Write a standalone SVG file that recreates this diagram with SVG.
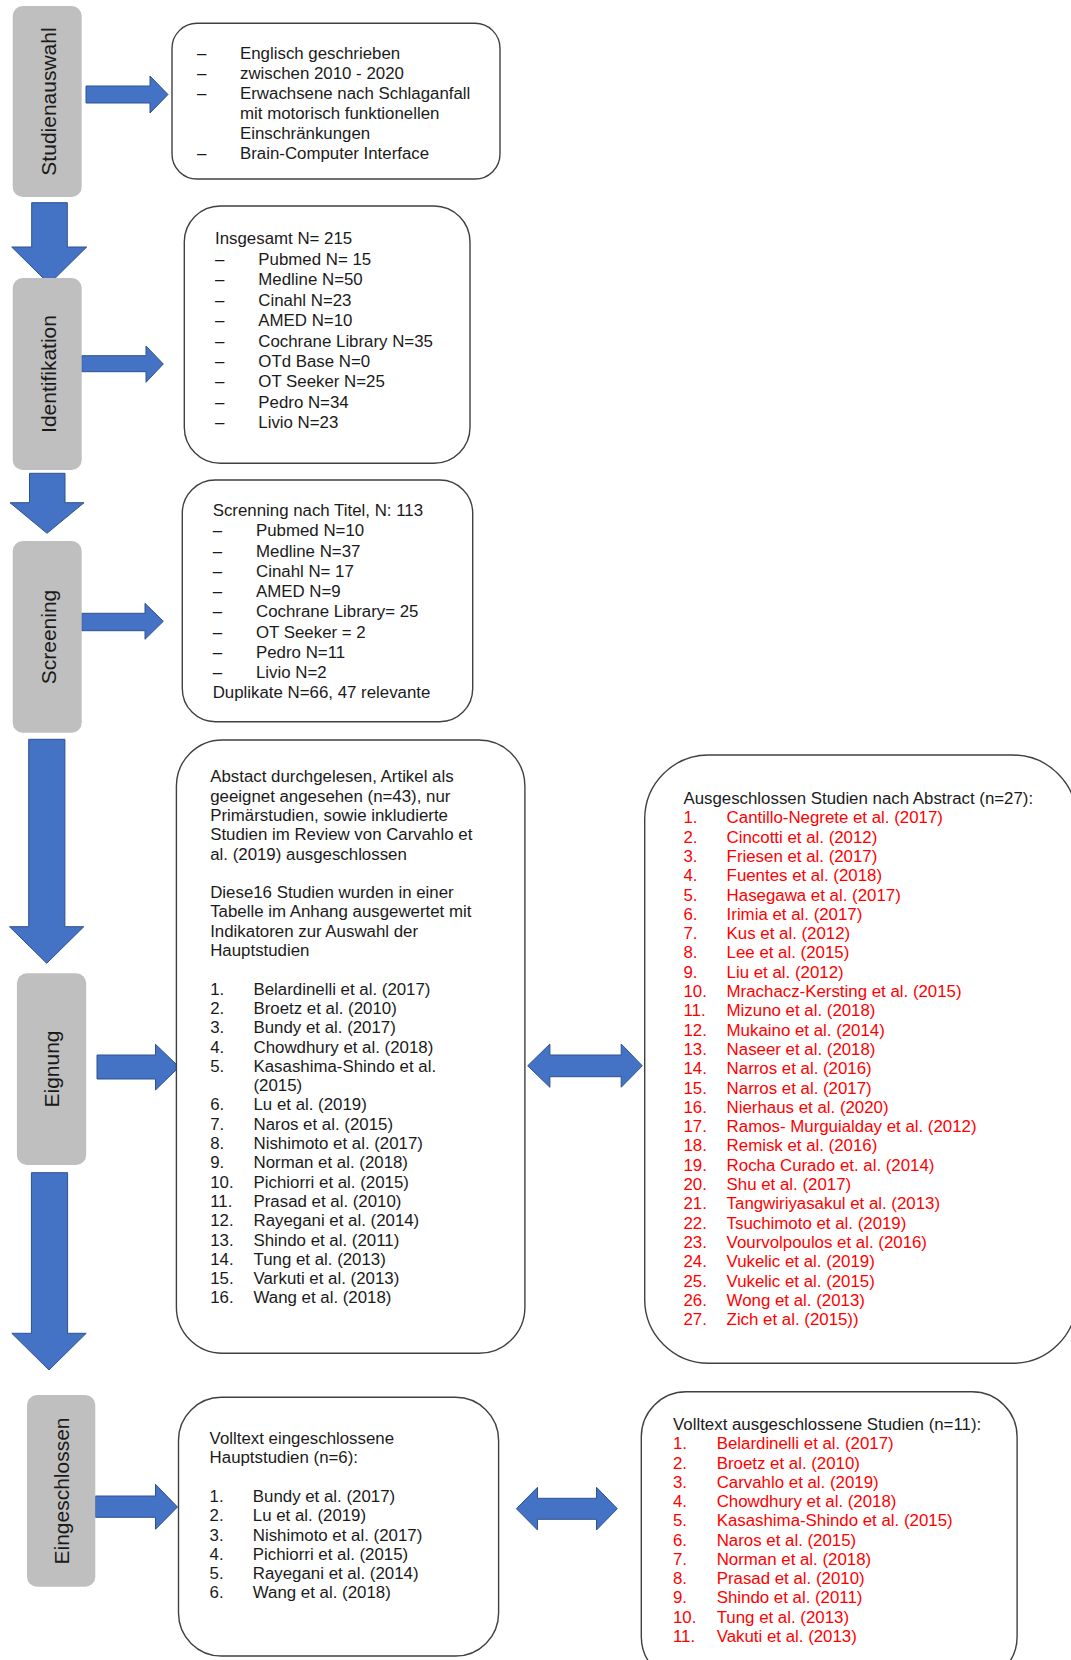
<svg xmlns="http://www.w3.org/2000/svg" width="1071" height="1660" viewBox="0 0 1071 1660">
<style>
.box{fill:#fff;stroke:#404040;stroke-width:1.4}
.stage{fill:#BFBFBF;stroke:none}
.stl{font-family:"Liberation Sans",Arial,sans-serif;font-size:21px;fill:#1a1a1a;text-anchor:middle}
.t{font-family:"Liberation Sans",Arial,sans-serif;font-size:16.85px;fill:#1a1a1a}
.r{fill:#FF0000}
.arr{fill:#4472C4;stroke:#2F528F;stroke-width:1}
</style>
<rect width="1071" height="1660" fill="#fff"/>

<g id="connectors">
<polygon class="arr" points="86,86 150,86 150,76 168,94.5 150,113 150,103 86,103"/>
<polygon class="arr" points="31.7,202.7 67.3,202.7 67.3,247 86.7,247 49.2,284 11.7,247 31.7,247"/>
<polygon class="arr" points="81.7,355.7 146,355.7 146,346 163.3,364 146,382.3 146,371.7 81.7,371.7"/>
<polygon class="arr" points="29.5,473.3 65,473.3 65,502.7 84,502.7 47,533.3 10,502.7 29.5,502.7"/>
<polygon class="arr" points="81.7,613.3 145,613.3 145,603.3 163.3,621.3 145,639.3 145,630.7 81.7,630.7"/>
<polygon class="arr" points="28.7,739.3 64.9,739.3 64.9,926.7 83.8,926.7 46.7,963.3 9.5,926.7 28.7,926.7"/>
<polygon class="arr" points="97,1055 155.5,1055 155.5,1044.3 179.1,1067 155.5,1090 155.5,1079 97,1079"/>
<polygon class="arr" points="31.4,1172.7 67.6,1172.7 67.6,1333.3 86.2,1333.3 49,1370 11.8,1333.3 31.4,1333.3"/>
<polygon class="arr" points="527.7,1065.8 549.9,1044 549.9,1055 621.2,1055 621.2,1044 642.3,1065.8 621.2,1087.3 621.2,1076.7 549.9,1076.7 549.9,1087.3"/>
<polygon class="arr" points="95.3,1496 155.5,1496 155.5,1484.3 177.5,1507 155.5,1529.3 155.5,1517.3 95.3,1517.3"/>
<polygon class="arr" points="516.4,1508.7 537.5,1487.3 537.5,1498.3 596.5,1498.3 596.5,1487.3 617.3,1508.7 596.5,1530 596.5,1519.3 537.5,1519.3 537.5,1530"/>
</g>

<g id="stage-studienauswahl">
<rect class="stage" x="12.7" y="6" width="69" height="191" rx="10"/>
<text class="stl" transform="translate(55.5,101.5) rotate(-90)">Studienauswahl</text>
</g>
<g id="stage-identifikation">
<rect class="stage" x="12.7" y="278" width="69" height="192" rx="10"/>
<text class="stl" transform="translate(55.5,374) rotate(-90)">Identifikation</text>
</g>
<g id="stage-screening">
<rect class="stage" x="12.7" y="541" width="69" height="191.7" rx="10"/>
<text class="stl" transform="translate(55.5,637) rotate(-90)">Screening</text>
</g>
<g id="stage-eignung">
<rect class="stage" x="16.9" y="973.3" width="69.3" height="191.7" rx="10"/>
<text class="stl" transform="translate(59,1069) rotate(-90)">Eignung</text>
</g>
<g id="stage-eingeschlossen">
<rect class="stage" x="27" y="1395" width="68.3" height="191.7" rx="10"/>
<text class="stl" transform="translate(68.5,1491) rotate(-90)">Eingeschlossen</text>
</g>

<g id="box-kriterien">
<rect class="box" x="172" y="23.3" width="328" height="155.7" rx="25"/>
<text class="t" x="197" y="58.7">–</text><text class="t" x="240" y="58.7">Englisch geschrieben</text>
<text class="t" x="197" y="78.7">–</text><text class="t" x="240" y="78.7">zwischen 2010 - 2020</text>
<text class="t" x="197" y="98.6">–</text><text class="t" x="240" y="98.6">Erwachsene nach Schlaganfall</text>
<text class="t" x="240" y="118.6">mit motorisch funktionellen</text>
<text class="t" x="240" y="138.5">Einschränkungen</text>
<text class="t" x="197" y="158.5">–</text><text class="t" x="240" y="158.5">Brain-Computer Interface</text>
</g>

<g id="box-identifikation">
<rect class="box" x="184.3" y="206" width="285.7" height="257.3" rx="36"/>
<text class="t" x="215" y="244.3">Insgesamt N= 215</text>
<text class="t" x="215" y="264.7">–</text><text class="t" x="258.3" y="264.7">Pubmed N= 15</text>
<text class="t" x="215" y="285.2">–</text><text class="t" x="258.3" y="285.2">Medline N=50</text>
<text class="t" x="215" y="305.6">–</text><text class="t" x="258.3" y="305.6">Cinahl N=23</text>
<text class="t" x="215" y="326.1">–</text><text class="t" x="258.3" y="326.1">AMED N=10</text>
<text class="t" x="215" y="346.5">–</text><text class="t" x="258.3" y="346.5">Cochrane Library N=35</text>
<text class="t" x="215" y="366.9">–</text><text class="t" x="258.3" y="366.9">OTd Base N=0</text>
<text class="t" x="215" y="387.4">–</text><text class="t" x="258.3" y="387.4">OT Seeker N=25</text>
<text class="t" x="215" y="407.8">–</text><text class="t" x="258.3" y="407.8">Pedro N=34</text>
<text class="t" x="215" y="428.3">–</text><text class="t" x="258.3" y="428.3">Livio N=23</text>
</g>

<g id="box-screening">
<rect class="box" x="182.3" y="480" width="290.4" height="241.7" rx="33"/>
<text class="t" x="212.7" y="516">Screnning nach Titel, N: 113</text>
<text class="t" x="212.7" y="536.3">–</text><text class="t" x="256" y="536.3">Pubmed N=10</text>
<text class="t" x="212.7" y="556.5">–</text><text class="t" x="256" y="556.5">Medline N=37</text>
<text class="t" x="212.7" y="576.8">–</text><text class="t" x="256" y="576.8">Cinahl N= 17</text>
<text class="t" x="212.7" y="597">–</text><text class="t" x="256" y="597">AMED N=9</text>
<text class="t" x="212.7" y="617.3">–</text><text class="t" x="256" y="617.3">Cochrane Library= 25</text>
<text class="t" x="212.7" y="637.6">–</text><text class="t" x="256" y="637.6">OT Seeker = 2</text>
<text class="t" x="212.7" y="657.8">–</text><text class="t" x="256" y="657.8">Pedro N=11</text>
<text class="t" x="212.7" y="678.1">–</text><text class="t" x="256" y="678.1">Livio N=2</text>
<text class="t" x="212.7" y="698.3">Duplikate N=66, 47 relevante</text>
</g>

<g id="box-eignung">
<rect class="box" x="176.4" y="740" width="348.5" height="613.3" rx="46"/>
<text class="t" x="210.2" y="782.3">Abstact durchgelesen, Artikel als</text>
<text class="t" x="210.2" y="801.6">geeignet angesehen (n=43), nur</text>
<text class="t" x="210.2" y="820.9">Primärstudien, sowie inkludierte</text>
<text class="t" x="210.2" y="840.2">Studien im Review von Carvahlo et</text>
<text class="t" x="210.2" y="859.5">al. (2019) ausgeschlossen</text>
<text class="t" x="210.2" y="898.1">Diese16 Studien wurden in einer</text>
<text class="t" x="210.2" y="917.4">Tabelle im Anhang ausgewertet mit</text>
<text class="t" x="210.2" y="936.7">Indikatoren zur Auswahl der</text>
<text class="t" x="210.2" y="956">Hauptstudien</text>
<text class="t" x="210.2" y="994.6">1.</text><text class="t" x="253.5" y="994.6">Belardinelli et al. (2017)</text>
<text class="t" x="210.2" y="1013.9">2.</text><text class="t" x="253.5" y="1013.9">Broetz et al. (2010)</text>
<text class="t" x="210.2" y="1033.2">3.</text><text class="t" x="253.5" y="1033.2">Bundy et al. (2017)</text>
<text class="t" x="210.2" y="1052.5">4.</text><text class="t" x="253.5" y="1052.5">Chowdhury et al. (2018)</text>
<text class="t" x="210.2" y="1071.8">5.</text><text class="t" x="253.5" y="1071.8">Kasashima-Shindo et al.</text>
<text class="t" x="253.5" y="1091.1">(2015)</text>
<text class="t" x="210.2" y="1110.4">6.</text><text class="t" x="253.5" y="1110.4">Lu et al. (2019)</text>
<text class="t" x="210.2" y="1129.7">7.</text><text class="t" x="253.5" y="1129.7">Naros et al. (2015)</text>
<text class="t" x="210.2" y="1149">8.</text><text class="t" x="253.5" y="1149">Nishimoto et al. (2017)</text>
<text class="t" x="210.2" y="1168.3">9.</text><text class="t" x="253.5" y="1168.3">Norman et al. (2018)</text>
<text class="t" x="210.2" y="1187.6">10.</text><text class="t" x="253.5" y="1187.6">Pichiorri et al. (2015)</text>
<text class="t" x="210.2" y="1206.9">11.</text><text class="t" x="253.5" y="1206.9">Prasad et al. (2010)</text>
<text class="t" x="210.2" y="1226.2">12.</text><text class="t" x="253.5" y="1226.2">Rayegani et al. (2014)</text>
<text class="t" x="210.2" y="1245.5">13.</text><text class="t" x="253.5" y="1245.5">Shindo et al. (2011)</text>
<text class="t" x="210.2" y="1264.8">14.</text><text class="t" x="253.5" y="1264.8">Tung et al. (2013)</text>
<text class="t" x="210.2" y="1284.1">15.</text><text class="t" x="253.5" y="1284.1">Varkuti et al. (2013)</text>
<text class="t" x="210.2" y="1303.4">16.</text><text class="t" x="253.5" y="1303.4">Wang et al. (2018)</text>
</g>

<g id="box-ausgeschlossen-abstract">
<rect class="box" x="644.7" y="755" width="432" height="608.3" rx="64"/>
<text class="t" x="683.4" y="804">Ausgeschlossen Studien nach Abstract (n=27):</text>
<text class="t r" x="683.4" y="823.3">1.</text><text class="t r" x="726.6" y="823.3">Cantillo-Negrete et al. (2017)</text>
<text class="t r" x="683.4" y="842.6">2.</text><text class="t r" x="726.6" y="842.6">Cincotti et al. (2012)</text>
<text class="t r" x="683.4" y="861.9">3.</text><text class="t r" x="726.6" y="861.9">Friesen et al. (2017)</text>
<text class="t r" x="683.4" y="881.2">4.</text><text class="t r" x="726.6" y="881.2">Fuentes et al. (2018)</text>
<text class="t r" x="683.4" y="900.5">5.</text><text class="t r" x="726.6" y="900.5">Hasegawa et al. (2017)</text>
<text class="t r" x="683.4" y="919.8">6.</text><text class="t r" x="726.6" y="919.8">Irimia et al. (2017)</text>
<text class="t r" x="683.4" y="939.1">7.</text><text class="t r" x="726.6" y="939.1">Kus et al. (2012)</text>
<text class="t r" x="683.4" y="958.4">8.</text><text class="t r" x="726.6" y="958.4">Lee et al. (2015)</text>
<text class="t r" x="683.4" y="977.7">9.</text><text class="t r" x="726.6" y="977.7">Liu et al. (2012)</text>
<text class="t r" x="683.4" y="997">10.</text><text class="t r" x="726.6" y="997">Mrachacz-Kersting et al. (2015)</text>
<text class="t r" x="683.4" y="1016.3">11.</text><text class="t r" x="726.6" y="1016.3">Mizuno et al. (2018)</text>
<text class="t r" x="683.4" y="1035.6">12.</text><text class="t r" x="726.6" y="1035.6">Mukaino et al. (2014)</text>
<text class="t r" x="683.4" y="1054.9">13.</text><text class="t r" x="726.6" y="1054.9">Naseer et al. (2018)</text>
<text class="t r" x="683.4" y="1074.2">14.</text><text class="t r" x="726.6" y="1074.2">Narros et al. (2016)</text>
<text class="t r" x="683.4" y="1093.5">15.</text><text class="t r" x="726.6" y="1093.5">Narros et al. (2017)</text>
<text class="t r" x="683.4" y="1112.8">16.</text><text class="t r" x="726.6" y="1112.8">Nierhaus et al. (2020)</text>
<text class="t r" x="683.4" y="1132.1">17.</text><text class="t r" x="726.6" y="1132.1">Ramos- Murguialday et al. (2012)</text>
<text class="t r" x="683.4" y="1151.4">18.</text><text class="t r" x="726.6" y="1151.4">Remisk et al. (2016)</text>
<text class="t r" x="683.4" y="1170.7">19.</text><text class="t r" x="726.6" y="1170.7">Rocha Curado et. al. (2014)</text>
<text class="t r" x="683.4" y="1190">20.</text><text class="t r" x="726.6" y="1190">Shu et al. (2017)</text>
<text class="t r" x="683.4" y="1209.3">21.</text><text class="t r" x="726.6" y="1209.3">Tangwiriyasakul et al. (2013)</text>
<text class="t r" x="683.4" y="1228.6">22.</text><text class="t r" x="726.6" y="1228.6">Tsuchimoto et al. (2019)</text>
<text class="t r" x="683.4" y="1247.9">23.</text><text class="t r" x="726.6" y="1247.9">Vourvolpoulos et al. (2016)</text>
<text class="t r" x="683.4" y="1267.2">24.</text><text class="t r" x="726.6" y="1267.2">Vukelic et al. (2019)</text>
<text class="t r" x="683.4" y="1286.5">25.</text><text class="t r" x="726.6" y="1286.5">Vukelic et al. (2015)</text>
<text class="t r" x="683.4" y="1305.8">26.</text><text class="t r" x="726.6" y="1305.8">Wong et al. (2013)</text>
<text class="t r" x="683.4" y="1325.1">27.</text><text class="t r" x="726.6" y="1325.1">Zich et al. (2015))</text>
</g>

<g id="box-eingeschlossen">
<rect class="box" x="178.5" y="1397.3" width="320.1" height="258.7" rx="43"/>
<text class="t" x="209.6" y="1444">Volltext eingeschlossene</text>
<text class="t" x="209.6" y="1463.3">Hauptstudien (n=6):</text>
<text class="t" x="209.6" y="1501.9">1.</text><text class="t" x="252.8" y="1501.9">Bundy et al. (2017)</text>
<text class="t" x="209.6" y="1521.2">2.</text><text class="t" x="252.8" y="1521.2">Lu et al. (2019)</text>
<text class="t" x="209.6" y="1540.5">3.</text><text class="t" x="252.8" y="1540.5">Nishimoto et al. (2017)</text>
<text class="t" x="209.6" y="1559.8">4.</text><text class="t" x="252.8" y="1559.8">Pichiorri et al. (2015)</text>
<text class="t" x="209.6" y="1579.1">5.</text><text class="t" x="252.8" y="1579.1">Rayegani et al. (2014)</text>
<text class="t" x="209.6" y="1598.4">6.</text><text class="t" x="252.8" y="1598.4">Wang et al. (2018)</text>
</g>

<g id="box-ausgeschlossen-volltext">
<rect class="box" x="641.3" y="1391.7" width="375.8" height="290" rx="45"/>
<text class="t" x="673" y="1430">Volltext ausgeschlossene Studien (n=11):</text>
<text class="t r" x="673" y="1449.3">1.</text><text class="t r" x="716.7" y="1449.3">Belardinelli et al. (2017)</text>
<text class="t r" x="673" y="1468.5">2.</text><text class="t r" x="716.7" y="1468.5">Broetz et al. (2010)</text>
<text class="t r" x="673" y="1487.8">3.</text><text class="t r" x="716.7" y="1487.8">Carvahlo et al. (2019)</text>
<text class="t r" x="673" y="1507">4.</text><text class="t r" x="716.7" y="1507">Chowdhury et al. (2018)</text>
<text class="t r" x="673" y="1526.3">5.</text><text class="t r" x="716.7" y="1526.3">Kasashima-Shindo et al. (2015)</text>
<text class="t r" x="673" y="1545.5">6.</text><text class="t r" x="716.7" y="1545.5">Naros et al. (2015)</text>
<text class="t r" x="673" y="1564.8">7.</text><text class="t r" x="716.7" y="1564.8">Norman et al. (2018)</text>
<text class="t r" x="673" y="1584">8.</text><text class="t r" x="716.7" y="1584">Prasad et al. (2010)</text>
<text class="t r" x="673" y="1603.3">9.</text><text class="t r" x="716.7" y="1603.3">Shindo et al. (2011)</text>
<text class="t r" x="673" y="1622.5">10.</text><text class="t r" x="716.7" y="1622.5">Tung et al. (2013)</text>
<text class="t r" x="673" y="1641.8">11.</text><text class="t r" x="716.7" y="1641.8">Vakuti et al. (2013)</text>
</g>
</svg>
